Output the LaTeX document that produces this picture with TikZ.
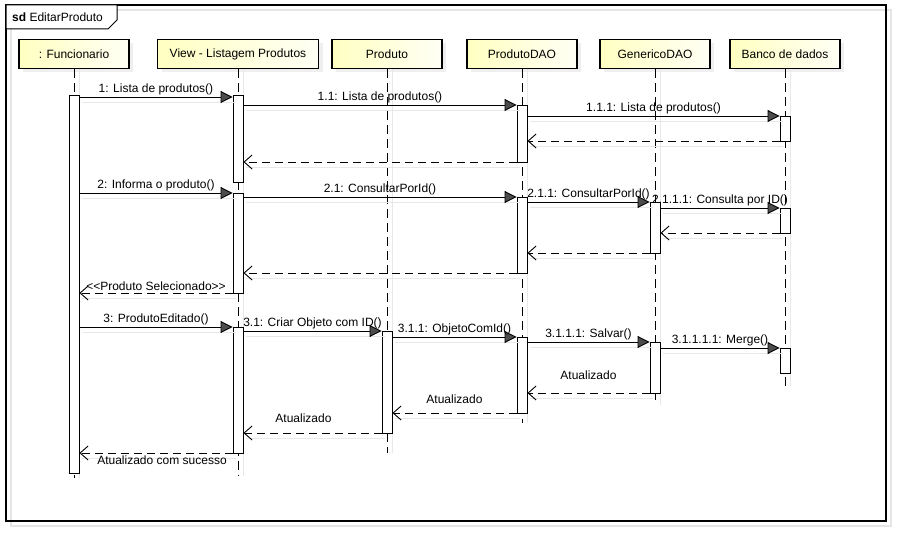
\documentclass[tikz,border=0pt]{standalone}
\usepackage{fontspec}
\setmainfont{Liberation Sans}
\usetikzlibrary{arrows.meta, shadows}
\begin{document}
\begin{tikzpicture}[x=1pt, y=-1pt,
    every node/.style={font=\fontsize{12}{14}\selectfont},
    head/.style={draw, line width=1.8pt, minimum width=110pt, minimum height=29pt, inner sep=0pt,
      left color=yellow!24, right color=yellow!4,
      drop shadow={shadow xshift=4pt, shadow yshift=-4pt, fill=gray!25}},
    bar/.style={draw, fill=white, line width=0.9pt, minimum width=10pt, inner sep=0pt, anchor=north},
    lifeline/.style={line width=0.9pt, dash pattern=on 9pt off 5pt,
      preaction={draw=gray!18, solid, transform canvas={xshift=5pt}}},
    call/.style={line width=0.9pt, -{Triangle[length=12pt, width=12pt, fill=gray!60!black]},
      preaction={draw=gray!18, -, transform canvas={shift={(3pt,-5pt)}}}},
    reply/.style={line width=0.9pt, dash pattern=on 8pt off 5pt, -{Straight Barb[length=8pt, width=14pt]},
      preaction={draw=gray!18, solid, -, transform canvas={shift={(3pt,-5pt)}}}},
    lbl/.style={above, inner sep=1.5pt},
  ]
  \useasboundingbox (0,0) rectangle (900,534);
  % frame
  \draw[gray!20, line width=1.2pt] (11,10) rectangle (891,526);
  \draw[line width=1.2pt] (6,5) rectangle (886,521);
  \draw[line width=1pt, fill=white] (6,5) -- (117,5) -- (117,20) -- (108,29) -- (6,29) -- cycle;
  \node[anchor=west, inner sep=0pt] (sd) at (12,17) {\textbf{sd} EditarProduto};
  % headers
  \node[head] (fun) at (74,54) {: Funcionario};
  \node[head, minimum width=161pt] (view) at (238,54) {View - Listagem Produtos};
  \node[head] (prod) at (387,54) {Produto};
  \node[head] (pdao) at (522,54) {ProdutoDAO};
  \node[head] (gdao) at (655,54) {GenericoDAO};
  \node[head] (bd) at (785,54) {Banco de dados};
  % lifelines
  \draw[lifeline] (fun.south) -- (fun.south |- 0,478);
  \draw[lifeline] (view.south) -- (view.south |- 0,476);
  \draw[lifeline] (prod.south) -- (prod.south |- 0,453);
  \draw[lifeline] (pdao.south) -- (pdao.south |- 0,423);
  \draw[lifeline] (gdao.south) -- (gdao.south |- 0,405);
  \draw[lifeline] (bd.south) -- (bd.south |- 0,386);
  % bars
  \node[bar, minimum height=378pt] (fun1) at (74,95) {};
  \node[bar, minimum height=87pt] (view1) at (238,95) {};
  \node[bar, minimum height=100pt] (view2) at (238,193) {};
  \node[bar, minimum height=126pt] (view3) at (238,327) {};
  \node[bar, minimum height=102pt] (prod1) at (387,331) {};
  \node[bar, minimum height=57pt] (pdao1) at (522,105) {};
  \node[bar, minimum height=76pt] (pdao2) at (522,197) {};
  \node[bar, minimum height=76pt] (pdao3) at (522,337) {};
  \node[bar, minimum height=51pt] (gdao2) at (655,202) {};
  \node[bar, minimum height=51pt] (gdao3) at (655,342) {};
  \node[bar, minimum height=25pt] (bd1) at (785,116) {};
  \node[bar, minimum height=25pt] (bd2) at (785,208) {};
  \node[bar, minimum height=25pt] (bd3) at (785,348) {};
  % step 1
  \draw[call] (fun1.east |- 0,97) -- node[lbl] {1: Lista de produtos()} (view1.west |- 0,97);
  \draw[call] (view1.east |- 0,105) -- node[lbl] {1.1: Lista de produtos()} (pdao1.west |- 0,105);
  \draw[call] (pdao1.east |- 0,116) -- node[lbl] {1.1.1: Lista de produtos()} (bd1.west |- 0,116);
  \draw[reply] (bd1.west |- 0,141) -- (pdao1.east |- 0,141);
  \draw[reply] (pdao1.west |- 0,162) -- (view1.east |- 0,162);
  % step 2
  \draw[call] (fun1.east |- 0,193) -- node[lbl] {2: Informa o produto()} (view2.west |- 0,193);
  \draw[call] (view2.east |- 0,197) -- node[lbl] {2.1: ConsultarPorId()} (pdao2.west |- 0,197);
  \draw[call] (pdao2.east |- 0,202) -- node[lbl] {2.1.1: ConsultarPorId()} (gdao2.west |- 0,202);
  \draw[call] (gdao2.east |- 0,208) -- node[lbl] {2.1.1.1: Consulta por ID()} (bd2.west |- 0,208);
  \draw[reply] (bd2.west |- 0,233) -- (gdao2.east |- 0,233);
  \draw[reply] (gdao2.west |- 0,253) -- (pdao2.east |- 0,253);
  \draw[reply] (pdao2.west |- 0,273) -- (view2.east |- 0,273);
  \draw[reply] (view2.west |- 0,293) -- node[lbl] {<{}<Produto Selecionado>{}>} (fun1.east |- 0,293);
  % step 3
  \draw[call] (fun1.east |- 0,327) -- node[lbl] {3: ProdutoEditado()} (view3.west |- 0,327);
  \draw[call] (view3.east |- 0,331) -- node[lbl] {3.1: Criar Objeto com ID()} (prod1.west |- 0,331);
  \draw[call] (prod1.east |- 0,337) -- node[lbl] {3.1.1: ObjetoComId()} (pdao3.west |- 0,337);
  \draw[call] (pdao3.east |- 0,342) -- node[lbl] {3.1.1.1: Salvar()} (gdao3.west |- 0,342);
  \draw[call] (gdao3.east |- 0,348) -- node[lbl] {3.1.1.1.1: Merge()} (bd3.west |- 0,348);
  \draw[reply] (gdao3.west |- 0,393) -- node[lbl, yshift=11pt] {Atualizado} (pdao3.east |- 0,393);
  \draw[reply] (pdao3.west |- 0,413) -- node[lbl, yshift=7pt] {Atualizado} (prod1.east |- 0,413);
  \draw[reply] (prod1.west |- 0,433) -- node[lbl, yshift=8pt, xshift=-9pt] {Atualizado} (view3.east |- 0,433);
  \draw[reply] (view3.west |- 0,453) -- node[below, inner sep=1.5pt, yshift=-1pt, xshift=6pt] {Atualizado com sucesso} (fun1.east |- 0,453);
\end{tikzpicture}
\end{document}
